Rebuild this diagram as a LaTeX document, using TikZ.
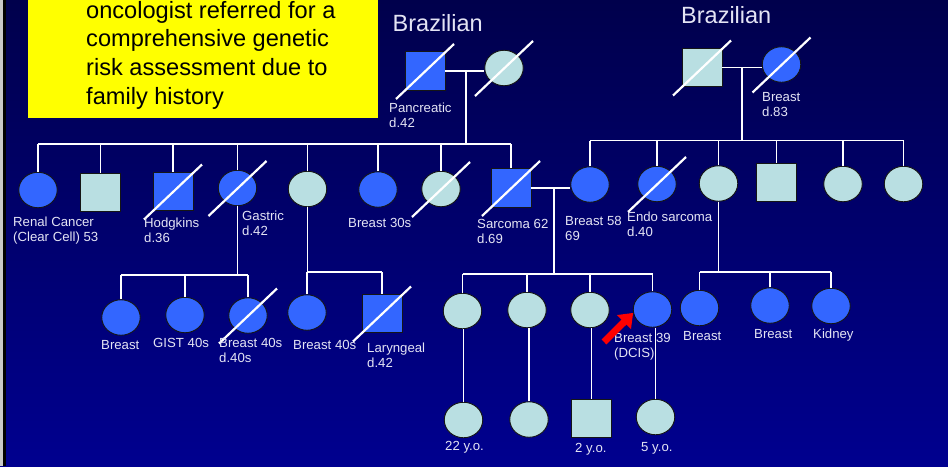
\documentclass[tikz,border=0pt]{standalone}
\usepackage{fontspec}
\setmainfont{Liberation Sans}
\usetikzlibrary{shapes.geometric,arrows.meta}

\definecolor{bgtop}{HTML}{00004C}
\definecolor{bgbot}{HTML}{00008F}
\definecolor{edgegray}{HTML}{C8C8C8}
\definecolor{affected}{HTML}{3366FF}
\definecolor{unaffected}{HTML}{B9DFE2}
\definecolor{outline}{HTML}{151515}
\definecolor{labeltext}{HTML}{E4E4F4}
\definecolor{notefill}{HTML}{FFFF00}
\definecolor{pointer}{HTML}{FF0000}

% multi-line text nodes are placed by the baseline of their last line
\tikzset{
  female/.style={ellipse, draw=outline, line width=0.9pt, minimum width=38.5pt,
                 minimum height=35.5pt, inner sep=0pt},
  male/.style={rectangle, draw=outline, line width=0.9pt, minimum width=40pt,
               minimum height=38.5pt, inner sep=0pt},
  aff/.style={fill=affected},
  unaff/.style={fill=unaffected},
  link/.style={draw=white, line width=1.3pt},
  slash/.style={draw=white, line width=2.2pt},
  lbl/.style={text=labeltext, font=\fontsize{13.2}{15.2}\selectfont, align=left,
              anchor=base west, inner sep=0pt},
  title/.style={text=labeltext, font=\fontsize{23.5}{28}\selectfont,
                anchor=base west, inner sep=0pt},
  notebox/.style={fill=notefill, minimum width=350pt, minimum height=118pt, inner sep=0pt},
  notetext/.style={text=black, font=\fontsize{23.6}{28.7}\selectfont, align=left,
                   anchor=base west, inner sep=0pt},
  redarrow/.style={draw=pointer, line width=7pt,
                   -{Triangle[length=13pt,width=19pt]}},
}

% white slash through a deceased individual
\newcommand\deceased[1]{\draw[slash] ([shift={(-29,28)}]#1.center) -- ([shift={(29,-27)}]#1.center);}

\begin{document}
\begin{tikzpicture}[x=1pt,y=-1pt]
\useasboundingbox (0,0) rectangle (948,466);
\shade[top color=bgtop, bottom color=bgbot] (0,0) rectangle (948,466);
\fill[edgegray] (0,0) rectangle (3.3,466);
\fill[black] (3.3,0) rectangle (5.8,466);

% referral note
\node[notebox] (note) at (203,59) {};
\node[notetext] (noteText) at (86,104.1)
  {oncologist referred for a\\comprehensive genetic\\risk assessment due to\\family history};

% family of origin titles
\node[title] (titleP) at (392.5,31) {Brazilian};
\node[title] (titleM) at (681,23) {Brazilian};

% generation I
\node[male,aff]     (gfP) at (425,71) {};
\node[female,unaff] (gmP) at (504,68) {};
\node[male,unaff]   (gfM) at (702,67.5) {};
\node[female,aff]   (gmM) at (781.5,64.5) {};

% generation II
\node[female,aff]   (renal) at (38,190) {};
\node[male,unaff]   (bro1)  at (100.5,192.5) {};
\node[male,aff]     (hodg)  at (173,191.5) {};
\node[female,aff]   (gast)  at (237.5,188) {};
\node[female,unaff] (aunt1) at (307.5,189) {};
\node[female,aff]   (br30)  at (378,189.5) {};
\node[female,unaff] (aunt2) at (441,189) {};
\node[male,aff]     (sarc)  at (511,188) {};
\node[female,aff]   (br58)  at (590,184.5) {};
\node[female,aff]   (endo)  at (657,184) {};
\node[female,unaff] (aunt3) at (718.5,183.5) {};
\node[male,unaff]   (unc2)  at (776.5,182.5) {};
\node[female,unaff] (aunt4) at (843,184) {};
\node[female,unaff] (aunt5) at (903.5,184) {};

% generation III
\node[female,aff]   (g1) at (121,317.5) {};
\node[female,aff]   (g2) at (185,315) {};
\node[female,aff]   (g3) at (248,315.5) {};
\node[female,aff]   (g4) at (307,312.5) {};
\node[male,aff]     (g5) at (382,313.5) {};
\node[female,unaff] (s1) at (462.5,311) {};
\node[female,unaff] (s2) at (527,310) {};
\node[female,unaff] (s3) at (590,310) {};
\node[female,aff]   (proband) at (652.5,309.5) {};
\node[female,aff]   (m1) at (699.5,308) {};
\node[female,aff]   (m2) at (770,305.5) {};
\node[female,aff]   (m3) at (831,306) {};

% generation IV
\node[female,unaff] (k1) at (463.5,420) {};
\node[female,unaff] (k2) at (529,419.5) {};
\node[male,unaff]   (k3) at (591.5,418.5) {};
\node[female,unaff] (k4) at (655.5,417) {};

% sibship and descent lines
\coordinate (barL) at (0,144);
\coordinate (barR) at (0,140.5);
\coordinate (barG) at (0,275);
\coordinate (barA) at (0,272);
\coordinate (barS) at (0,274);
\coordinate (barM) at (0,272);
\coordinate (descP) at (466,71);
\coordinate (descM) at (742,68);
\coordinate (descS) at (554,188.5);

% paternal grandparents and their children
\draw[link] (gfP.east) -- (gfP.east -| gmP.west);
\draw[link] (descP) -- (descP |- barL);
\draw[link] (renal.north |- barL) -- (sarc.north |- barL);
\foreach \n in {renal,bro1,hodg,gast,aunt1,br30,aunt2,sarc}
  \draw[link] (\n.north) -- (\n.north |- barL);

% maternal grandparents and their children
\draw[link] (gfM.east) -- (gfM.east -| gmM.west);
\draw[link] (descM) -- (descM |- barR);
\draw[link] (br58.north |- barR) -- (aunt5.north |- barR);
\foreach \n in {br58,endo,aunt3,unc2,aunt4,aunt5}
  \draw[link] (\n.north) -- (\n.north |- barR);

% parents of the proband
\draw[link] (sarc.east) -- (sarc.east -| br58.west);
\draw[link] (descS) -- (descS |- barS);
\draw[link] (s1.north |- barS) -- (proband.north |- barS);
\foreach \n in {s1,s2,s3,proband}
  \draw[link] (\n.north) -- (\n.north |- barS);

% cousins
\draw[link] (gast.south) -- (gast.south |- barG);
\draw[link] (g1.north |- barG) -- (g3.north |- barG);
\foreach \n in {g1,g2,g3}
  \draw[link] (\n.north) -- (\n.north |- barG);

\draw[link] (aunt1.south) -- (aunt1.south |- barA);
\draw[link] (g4.north |- barA) -- (g5.north |- barA);
\foreach \n in {g4,g5}
  \draw[link] (\n.north) -- (\n.north |- barA);

\draw[link] (aunt3.south) -- (aunt3.south |- barM);
\draw[link] (m1.north |- barM) -- (m3.north |- barM);
\foreach \n in {m1,m2,m3}
  \draw[link] (\n.north) -- (\n.north |- barM);

% generation IV
\draw[link] (k1.north) -- (k1.north |- s1.south);
\draw[link] (k2.north) -- (k2.north |- s2.south);
\draw[link] (k3.north) -- (k3.north |- s3.south);
\draw[link] (k4.north) -- (k4.north |- proband.south);

% deceased individuals
\deceased{gfP}
\deceased{gmP}
\deceased{gfM}
\deceased{gmM}
\deceased{hodg}
\deceased{gast}
\deceased{aunt2}
\deceased{sarc}
\deceased{endo}
\deceased{g3}
\deceased{g5}

% labels
\node[lbl] (gfPL) at (389,127.2) {Pancreatic\\d.42};
\node[lbl] (gmML) at (762,116.2) {Breast\\d.83};
\node[lbl] (renalL) at (13,241.2) {Renal Cancer\\(Clear Cell) 53};
\node[lbl] (hodgL) at (144,242.2) {Hodgkins\\d.36};
\node[lbl] (gastL) at (242,235.2) {Gastric\\d.42};
\node[lbl] (br30L) at (348,227) {Breast 30s};
\node[lbl] (sarcL) at (477,243.2) {Sarcoma 62\\d.69};
\node[lbl] (br58L) at (565,240.2) {Breast 58\\69};
\node[lbl] (endoL) at (627,236.2) {Endo sarcoma\\d.40};
\node[lbl] (g1L) at (101,349) {Breast};
\node[lbl] (g2L) at (153,347) {GIST 40s};
\node[lbl] (g3L) at (219,362.2) {Breast 40s\\d.40s};
\node[lbl] (g4L) at (293,349) {Breast 40s};
\node[lbl] (g5L) at (367,367.2) {Laryngeal\\d.42};
\node[lbl] (probandL) at (614,357.2) {Breast 39\\(DCIS)};
\node[lbl] (m1L) at (683,340) {Breast};
\node[lbl] (m2L) at (754,338) {Breast};
\node[lbl] (m3L) at (813,338) {Kidney};
\node[lbl] (k1L) at (445,450) {22 y.o.};
\node[lbl] (k3L) at (575,452) {2 y.o.};
\node[lbl] (k4L) at (641,451) {5 y.o.};

% proband pointer
\coordinate (arrowTail) at (604,342);
\draw[redarrow] (arrowTail) -- (proband.190);
\end{tikzpicture}
\end{document}
